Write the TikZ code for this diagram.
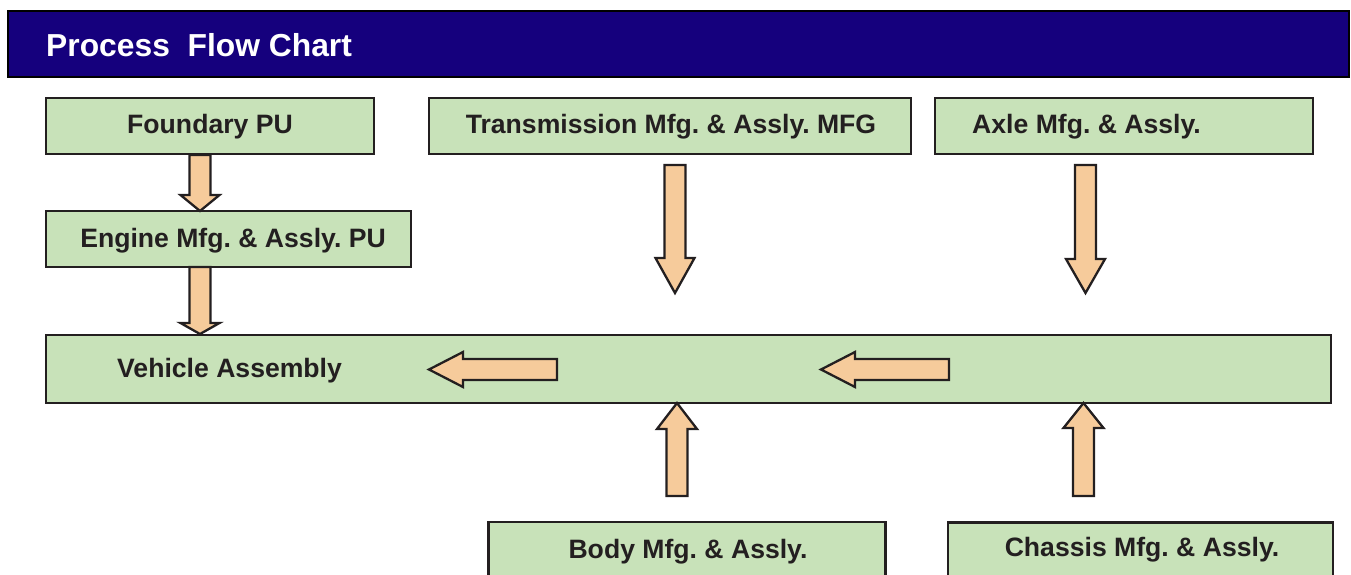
\documentclass[tikz,border=0pt]{standalone}
\usepackage{fontspec}
\setmainfont{Liberation Sans}
\frenchspacing
\definecolor{hdrblue}{RGB}{21,0,125}
\definecolor{boxgreen}{RGB}{200,226,185}
\definecolor{arrfill}{RGB}{246,203,155}
\definecolor{ink}{RGB}{35,31,32}
\newcommand\arrdown[4]{% x, top, headbase, tip
  \draw[blockarr] (#1-10.5,#2) -- (#1+10.5,#2) -- (#1+10.5,#3) -- (#1+19.5,#3) -- (#1,#4) -- (#1-19.5,#3) -- (#1-10.5,#3) -- cycle;}
\newcommand\arrup[4]{% x, bottom, headbase, tip
  \draw[blockarr] (#1-10.5,#2) -- (#1+10.5,#2) -- (#1+10.5,#3) -- (#1+20,#3) -- (#1,#4) -- (#1-20,#3) -- (#1-10.5,#3) -- cycle;}
\newcommand\arrleft[4]{% y, right, headbase, tip
  \draw[blockarr] (#2,#1-10.5) -- (#2,#1+10.5) -- (#3,#1+10.5) -- (#3,#1+17.5) -- (#4,#1) -- (#3,#1-17.5) -- (#3,#1-10.5) -- cycle;}
\begin{document}
\begin{tikzpicture}[x=1pt,y=-1pt,
  box/.style={draw=ink, line width=2.3pt, fill=boxgreen, inner sep=0pt},
  lbl/.style={font=\bfseries\fontsize{26.6}{30}\selectfont, text=ink, inner sep=0pt, anchor=base},
  blockarr/.style={draw=ink, line width=2.3pt, fill=arrfill, line join=miter}]
\useasboundingbox (0,0) rectangle (1351,575);
% header
\node[draw=black, line width=2.5pt, fill=hdrblue, minimum width=1341pt, minimum height=66pt, inner sep=0pt] (hdr) at (678.5,44) {};
\node[font=\bfseries\fontsize{31.8}{36}\selectfont, text=white, inner sep=0pt, anchor=base west] (title) at (46,57) {Process\ \ Flow Chart};
% boxes
\node[box, minimum width=328pt, minimum height=56pt] (found) at (210,126) {};
\node[box, minimum width=365pt, minimum height=56pt] (engine) at (228.5,239) {};
\node[box, minimum width=482pt, minimum height=56pt] (trans) at (670,126) {};
\node[box, minimum width=378pt, minimum height=56pt] (axle) at (1124,126) {};
\node[box, minimum width=1285pt, minimum height=68pt] (veh) at (688.5,369) {};
\node[box, minimum width=397pt, minimum height=70pt] (body) at (687,557) {};
\node[box, minimum width=385pt, minimum height=70pt] (chassis) at (1140.5,557.5) {};
% labels
\node[lbl] (tfound) at (210,133) {Foundary PU};
\node[lbl] (tengine) at (233,247) {Engine Mfg. \& Assly. PU};
\node[lbl] (ttrans) at (671,133) {Transmission Mfg. \& Assly. MFG};
\node[lbl, anchor=base west] (taxle) at (972,133) {Axle Mfg. \& Assly.};
\node[lbl, anchor=base west] (tveh) at (117,377) {Vehicle Assembly};
\node[lbl] (tbody) at (688,558) {Body Mfg. \& Assly.};
\node[lbl] (tchassis) at (1142,556) {Chassis Mfg. \& Assly.};
% block arrows
\arrdown{200}{155}{195}{211}
\arrdown{200}{267}{323}{334}
\arrdown{675}{165}{258}{293}
\arrdown{1085.5}{165}{259}{293}
\arrleft{369.5}{557}{463}{429}
\arrleft{369.5}{949}{855}{821}
\arrup{677}{496}{429}{403}
\arrup{1083.5}{496}{428}{403}
\end{tikzpicture}
\end{document}
